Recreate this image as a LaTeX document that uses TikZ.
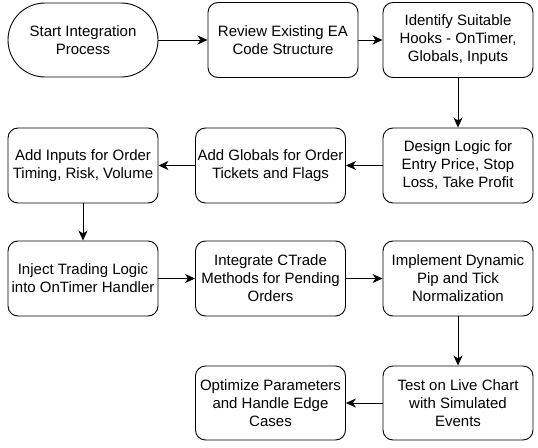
\documentclass[tikz,border=0pt]{standalone}
\usepackage{fontspec}
\setmainfont{Liberation Sans}
\usetikzlibrary{arrows.meta}
\begin{document}
\begin{tikzpicture}[x=1pt,y=-1pt,
        stepbox/.style={draw,line width=0.9pt,rounded corners=10pt,minimum width=150pt,minimum height=75pt,align=center,font=\fontsize{15}{18}\selectfont,inner sep=1pt},
        startbox/.style={stepbox,rounded corners=37pt,minimum height=74pt},
        flow/.style={-{Stealth[length=10pt,width=9pt,inset=3pt]},line width=0.9pt}]
        \useasboundingbox (0,0) rectangle (538,447);
        \node[startbox] (start) at (83,40) {Start Integration\\Process};
        \node[stepbox] (review) at (283,40) {Review Existing EA\\Code Structure};
        \node[stepbox] (hooks) at (458,40) {Identify Suitable\\Hooks - OnTimer,\\Globals, Inputs};
        \node[stepbox] (design) at (458,165.5) {Design Logic for\\Entry Price, Stop\\Loss, Take Profit};
        \node[stepbox] (globals) at (270.5,165.5) {Add Globals for Order\\Tickets and Flags};
        \node[stepbox] (inputs) at (83,165.5) {Add Inputs for Order\\Timing, Risk, Volume};
        \node[stepbox] (inject) at (83,278.5) {Inject Trading Logic\\into OnTimer Handler};
        \node[stepbox] (ctrade) at (270.5,278.5) {Integrate CTrade\\Methods for Pending\\Orders};
        \node[stepbox] (pips) at (458,278.5) {Implement Dynamic\\Pip and Tick\\Normalization};
        \node[stepbox,minimum height=74pt] (test) at (458,403) {Test on Live Chart\\with Simulated\\Events};
        \node[stepbox,minimum height=74pt] (optimize) at (270.5,403) {Optimize Parameters\\and Handle Edge\\Cases};
        \draw[flow] (start) -- (review);
        \draw[flow] (review) -- (hooks);
        \draw[flow] (hooks) -- (design);
        \draw[flow] (design) -- (globals);
        \draw[flow] (globals) -- (inputs);
        \draw[flow] (inputs) -- (inject);
        \draw[flow] (inject) -- (ctrade);
        \draw[flow] (ctrade) -- (pips);
        \draw[flow] (pips) -- (test);
        \draw[flow] (test) -- (optimize);
    \end{tikzpicture}
\end{document}
